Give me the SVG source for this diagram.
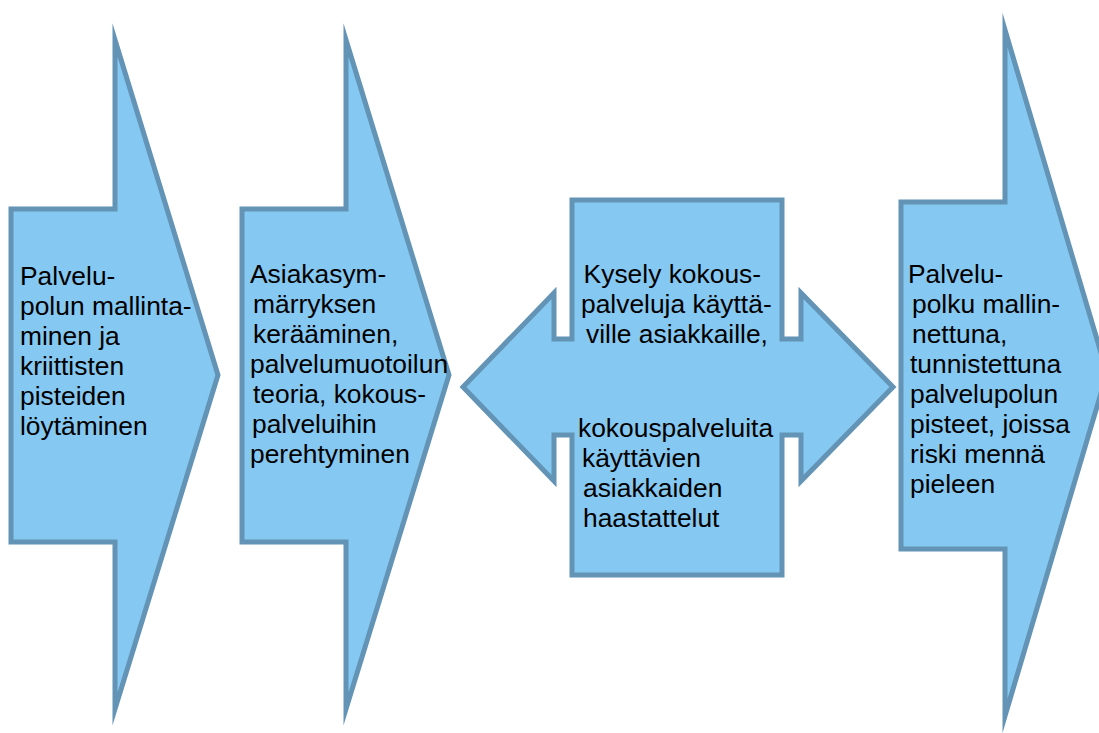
<svg xmlns="http://www.w3.org/2000/svg" width="1099" height="733" viewBox="0 0 1099 733">
  <style>
    .shape { fill: #85C8F1; stroke: #6393B5; stroke-width: 5; stroke-linejoin: miter; stroke-miterlimit: 10; }
    .label { font-family: "Liberation Sans", Arial, sans-serif; font-size: 26.4px; fill: #000000; }
    .mid { text-anchor: middle; }
  </style>
  <rect width="1099" height="733" fill="#FFFFFF"/>

  <g id="step1">
    <polygon class="shape" points="11,209 115,209 115,40 218,375 115,709 115,542 11,542"/>
    <text class="label">
      <tspan x="20" y="285">Palvelu-</tspan>
      <tspan x="20" y="315">polun mallinta-</tspan>
      <tspan x="20" y="345">minen ja</tspan>
      <tspan x="20" y="375">kriittisten</tspan>
      <tspan x="20" y="405">pisteiden</tspan>
      <tspan x="20" y="435">löytäminen</tspan>
    </text>
  </g>

  <g id="step2">
    <polygon class="shape" points="242,209 346,209 346,40 449,375 346,709 346,542 242,542"/>
    <text class="label">
      <tspan x="250" y="283">Asiakasym-</tspan>
      <tspan x="253" y="313">märryksen</tspan>
      <tspan x="253" y="343">kerääminen,</tspan>
      <tspan x="250" y="373">palvelumuotoilun</tspan>
      <tspan x="253" y="403">teoria, kokous-</tspan>
      <tspan x="252" y="433">palveluihin</tspan>
      <tspan x="250" y="463">perehtyminen</tspan>
    </text>
  </g>

  <g id="step3">
    <polygon class="shape" points="572,200 782,200 782,339 801,339 801,293 893,387 801,481 801,435 782,435 782,575 572,575 572,435 554,435 554,481 463,387 554,293 554,339 572,339"/>
    <text class="label mid">
      <tspan x="676" y="283">Kysely kokous-</tspan>
      <tspan x="680" y="313">palveluja käyttä-</tspan>
      <tspan x="677" y="343">ville asiakkaille,</tspan>
    </text>
    <text class="label">
      <tspan x="578" y="437">kokouspalveluita</tspan>
      <tspan x="582" y="467">käyttävien</tspan>
      <tspan x="583" y="497">asiakkaiden</tspan>
      <tspan x="583" y="527">haastattelut</tspan>
    </text>
  </g>

  <g id="step4">
    <polygon class="shape" points="901,202 1005,202 1005,30 1107,373 1005,716 1005,549 901,549"/>
    <text class="label">
      <tspan x="908" y="283">Palvelu-</tspan>
      <tspan x="912" y="313">polku mallin-</tspan>
      <tspan x="912" y="343">nettuna,</tspan>
      <tspan x="910" y="373">tunnistettuna</tspan>
      <tspan x="910" y="403">palvelupolun</tspan>
      <tspan x="910" y="433">pisteet, joissa</tspan>
      <tspan x="910" y="463">riski mennä</tspan>
      <tspan x="910" y="493">pieleen</tspan>
    </text>
  </g>

  <g id="connectors"></g>
</svg>
